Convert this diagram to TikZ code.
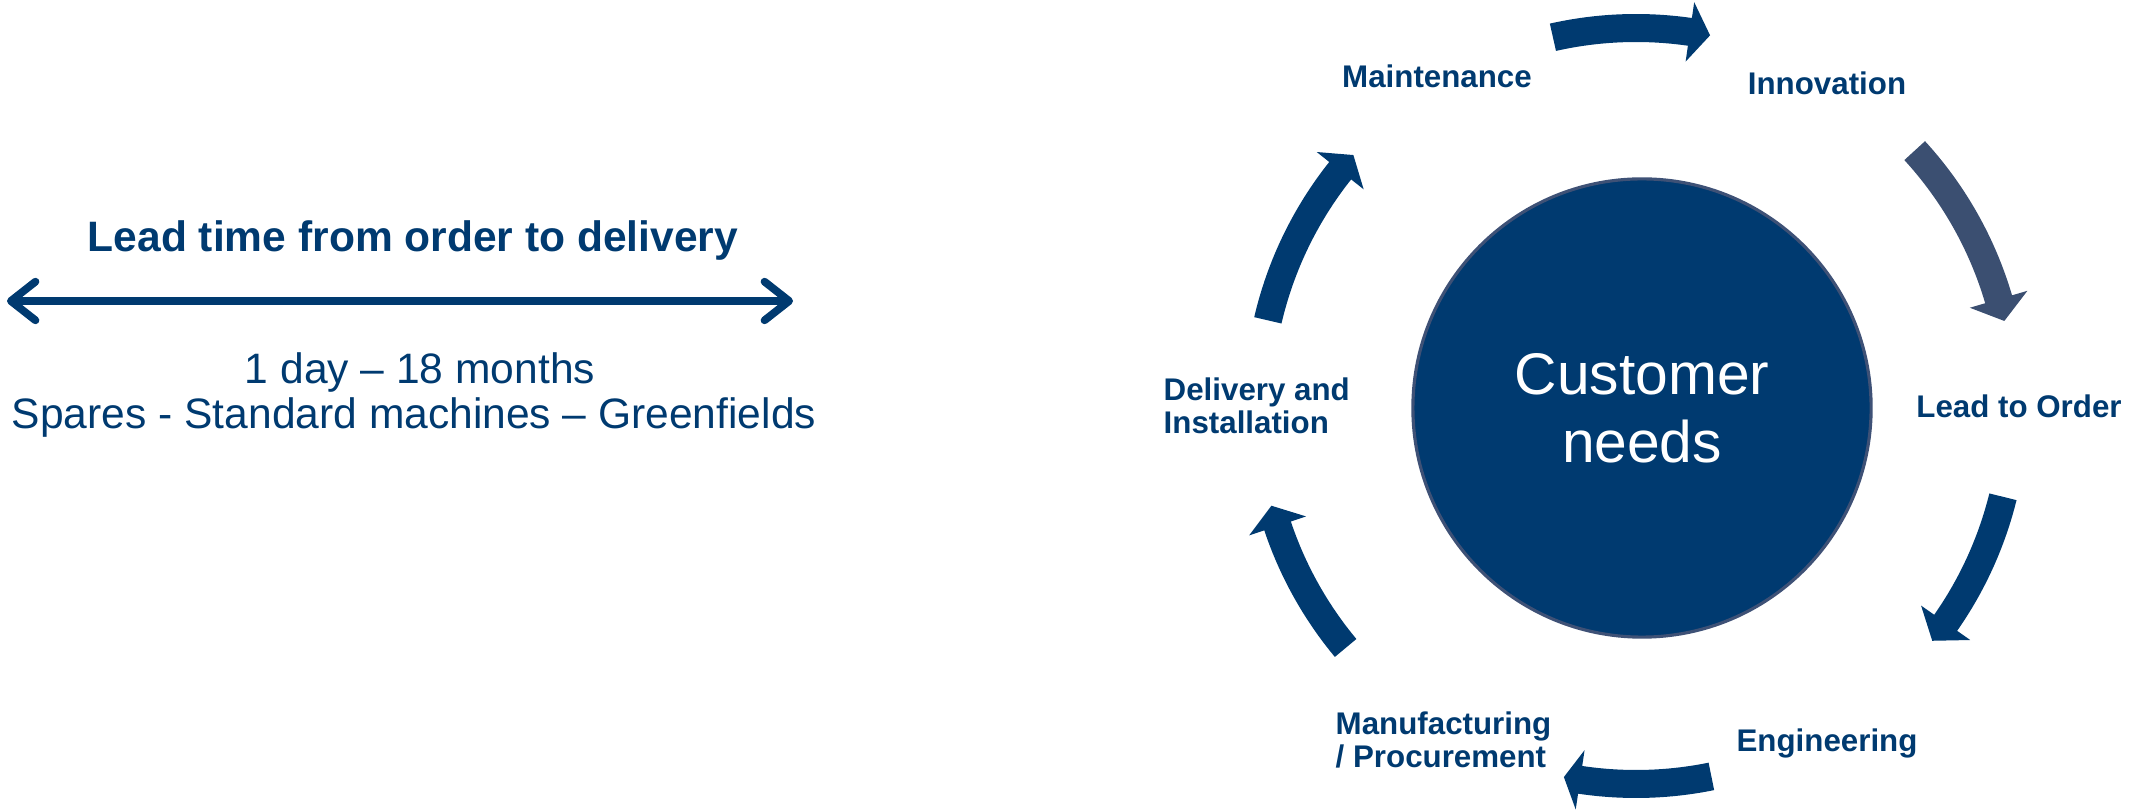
\documentclass[tikz,border=0pt]{standalone}
\usepackage{fontspec}
\setmainfont{Liberation Sans}
\usetikzlibrary{arrows.meta}
\definecolor{navy}{HTML}{003A70}
\definecolor{slate}{HTML}{3B4F71}
\definecolor{rim}{HTML}{3E5176}
\tikzset{
  stage/.style={text=navy,font=\fontsize{8.9}{9.4}\selectfont\bfseries,inner sep=0pt},
  plain/.style={text=navy,font=\fontsize{12.1}{14}\selectfont,inner sep=0pt,anchor=base},
  barb/.tip={Straight Barb[length=7pt,width=11pt,round]}
}
\begin{document}
\begin{tikzpicture}[x=0.01cm,y=0.01cm]
  \useasboundingbox (0,0) rectangle (2136,812);
  % lead time span, left part
  \coordinate (spanL) at (7,511);
  \coordinate (spanR) at (793,511);
  \draw[navy,line width=2.2pt,barb-barb] (spanL) -- (spanR);
  \node[plain,font=\fontsize{12.1}{14}\selectfont\bfseries] (lead) at (413,560)
    {Lead time from order to delivery};
  \node[plain] (range) at (420,428) {1 day – 18 months};
  \node[plain] (kinds) at (414,383) {Spares - Standard machines – Greenfields};

  % customer needs in the middle
  \node[circle,fill=navy,draw=rim,line width=0.9pt,minimum size=4.58cm,
    text=white,align=center,inner sep=0pt,
    font=\fontsize{16.7}{19.3}\selectfont] (core) at (1642,404) {Customer\\needs};

  % six curved arrows on a ring of r = 378 round (ring)
  \coordinate (ring) at (1636,406);
  \foreach \ta/\tb/\tc/\col in {102.7/81.8/78.7/navy, 42.5/16.4/13/slate,
      -13.9/-35/-38.4/navy, -78.5/-98.5/-101/navy,
      -140.2/-161.5/-164.7/navy, 166.9/141.5/138.4/navy}{
    \fill[\col] ([shift={(\ta:392)}]ring) arc[start angle=\ta,end angle=\tb,radius=392]
      -- ([shift={(\tb:408)}]ring) -- ([shift={(\tc:378)}]ring)
      -- ([shift={(\tb:348)}]ring) -- ([shift={(\tb:364)}]ring)
      arc[start angle=\tb,end angle=\ta,radius=364] -- cycle;
  }

  % stage labels
  \node[stage,anchor=base] (maint) at (1437,724) {Maintenance};
  \node[stage,anchor=base] (innov) at (1827,717) {Innovation};
  \node[stage,anchor=base] (order) at (2019,394) {Lead to Order};
  \node[stage,anchor=base] (eng) at (1827,60) {Engineering};
  \node[stage,align=left,anchor=north west] (manuf) at (1335,101)
    {Manufacturing\\/ Procurement};
  \node[stage,align=left,anchor=north west] (deliv) at (1163,435)
    {Delivery and\\Installation};
\end{tikzpicture}
\end{document}
